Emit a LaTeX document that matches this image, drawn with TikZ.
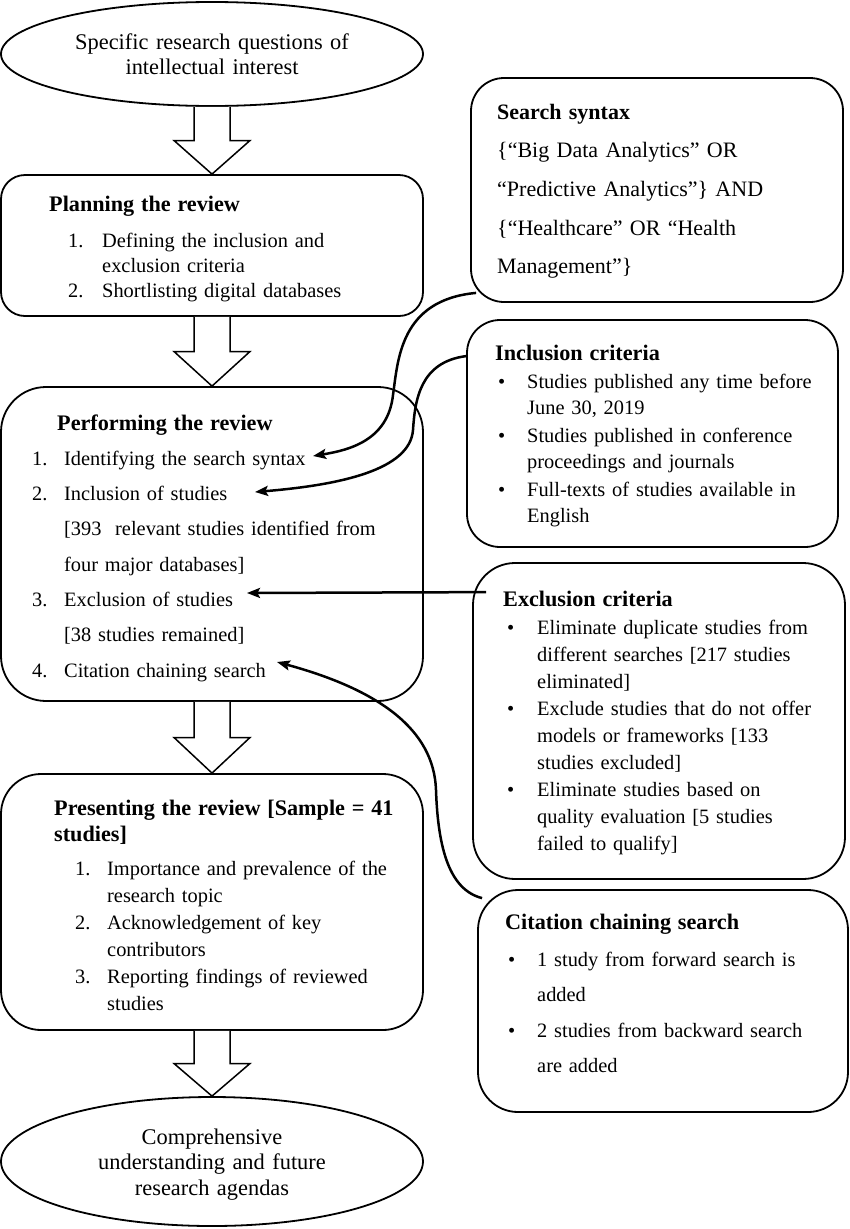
\documentclass[tikz,border=0pt]{standalone}
\usepackage{fontspec}
\setmainfont{Liberation Serif}
\usetikzlibrary{shapes.geometric,arrows.meta,calc}
\newcommand\itemlbl[3]{\hspace*{#1}\makebox[#2][l]{#3}}
\newcommand\blockarrow[2]{%
  \coordinate (m-#1) at ($(#1.south)!0.5!(#2.north)$);
  \draw[barrow] ($(#1.south)+(-18,0)$) -- ($(m-#1)+(-18,0)$) -- ($(m-#1)+(-38,0)$)
    -- (#2.north) -- ($(m-#1)+(38,0)$) -- ($(m-#1)+(18,0)$) -- ($(#1.south)+(18,0)$);}
\begin{document}
\begin{tikzpicture}[x=1pt,y=-1pt,
  box/.style={draw, line width=1.8pt, rectangle, inner sep=0pt},
  oval/.style={draw, line width=1.8pt, ellipse, inner sep=0pt},
  txt/.style={anchor=base west, inner sep=0pt, text width=#1, align=left},
  ctxt/.style={anchor=base, inner sep=0pt, text width=400pt, align=center,
    font=\fontsize{22.4pt}{25.5pt}\selectfont},
  barrow/.style={draw, line width=1.5pt, fill=white, line join=miter},
  link/.style={line width=2.5pt, -{Stealth[length=13pt,width=10pt,inset=2.5pt]}},
  ttl/.style={font=\bfseries}]
\useasboundingbox (0,0) rectangle (850,1229);

% ---- left column shapes
\node[oval, minimum width=422pt, minimum height=104pt] (q) at (212,54) {};
\node[box, rounded corners=24pt, minimum width=422pt, minimum height=141pt] (plan) at (212,245.5) {};
\node[box, rounded corners=45pt, minimum width=422pt, minimum height=314pt] (perf) at (212,544) {};
\node[box, rounded corners=40pt, minimum width=422pt, minimum height=256pt] (pres) at (212,902) {};
\node[oval, minimum width=422pt, minimum height=129pt] (out) at (212,1161.5) {};

% ---- right column shapes
\node[box, rounded corners=33pt, minimum width=372pt, minimum height=224pt] (ss) at (657,190) {};
\node[box, rounded corners=33pt, minimum width=371pt, minimum height=227pt] (inc) at (652.5,433.5) {};
\node[box, rounded corners=42pt, minimum width=372pt, minimum height=316pt] (exc) at (659,721) {};
\node[box, rounded corners=40pt, minimum width=370pt, minimum height=222pt] (cit) at (663,1001) {};

% ---- block arrows
\blockarrow{q}{plan}
\blockarrow{plan}{perf}
\blockarrow{perf}{pres}
\blockarrow{pres}{out}

% ---- texts
\node[ctxt] (qt) at (212,49) {Specific research questions of\\intellectual interest};
\node[ctxt] (outt) at (212,1144) {Comprehensive\\understanding and future\\research agendas};

\node[txt=380pt, font=\fontsize{20.4pt}{25pt}\selectfont] (plant) at (49,211) {%
{\bfseries\fontsize{22.2pt}{25pt}\selectfont Planning the review}\\[11pt]
\itemlbl{19pt}{34pt}{1.}Defining the inclusion and\\
\hspace*{53pt}exclusion criteria\\
\itemlbl{19pt}{34pt}{2.}Shortlisting digital databases};

\node[txt=380pt, font=\fontsize{20.4pt}{35.3pt}\selectfont] (perft) at (32,430) {%
\hspace*{25pt}{\bfseries\fontsize{22.2pt}{26pt}\selectfont Performing the review}\\
\itemlbl{0pt}{32pt}{1.}Identifying the search syntax\\
\itemlbl{0pt}{32pt}{2.}Inclusion of studies\\
\hspace*{32pt}[393\ \ relevant studies identified from\\
\hspace*{32pt}four major databases]\\
\itemlbl{0pt}{32pt}{3.}Exclusion of studies\\
\hspace*{32pt}[38 studies remained]\\
\itemlbl{0pt}{32pt}{4.}Citation chaining search};

\node[txt=380pt, font=\fontsize{20.4pt}{27pt}\selectfont] (prest) at (54,815) {%
{\bfseries\fontsize{22.2pt}{26pt}\selectfont Presenting the review [Sample = 41}\\[-1pt]
{\bfseries\fontsize{22.2pt}{26pt}\selectfont studies]}\\[7pt]
\itemlbl{21pt}{32pt}{1.}Importance and prevalence of the\\
\hspace*{53pt}research topic\\
\itemlbl{21pt}{32pt}{2.}Acknowledgement of key\\
\hspace*{53pt}contributors\\
\itemlbl{21pt}{32pt}{3.}Reporting findings of reviewed\\
\hspace*{53pt}studies};

\node[txt=340pt, font=\fontsize{22pt}{38.7pt}\selectfont] (sst) at (497,119) {%
{\bfseries Search syntax}\\
\{“Big Data Analytics” OR\\
“Predictive Analytics”\} AND\\
\{“Healthcare” OR “Health\\
Management”\}};

\node[txt=340pt, font=\fontsize{20.4pt}{26pt}\selectfont] (inct) at (495,360) {%
{\bfseries\fontsize{22.2pt}{26pt}\selectfont Inclusion criteria}\\[2pt]
\itemlbl{3pt}{29pt}{•}Studies published any time before\\
\hspace*{32pt}June 30, 2019\\[2pt]
\itemlbl{3pt}{29pt}{•}Studies published in conference\\
\hspace*{32pt}proceedings and journals\\[2pt]
\itemlbl{3pt}{29pt}{•}Full-texts of studies available in\\
\hspace*{32pt}English};

\node[txt=340pt, font=\fontsize{20.4pt}{27pt}\selectfont] (exct) at (503,606) {%
{\bfseries\fontsize{22.2pt}{26pt}\selectfont Exclusion criteria}\\[1pt]
\itemlbl{4pt}{30pt}{•}Eliminate duplicate studies from\\
\hspace*{34pt}different searches [217 studies\\
\hspace*{34pt}eliminated]\\
\itemlbl{4pt}{30pt}{•}Exclude studies that do not offer\\
\hspace*{34pt}models or frameworks [133\\
\hspace*{34pt}studies excluded]\\
\itemlbl{4pt}{30pt}{•}Eliminate studies based on\\
\hspace*{34pt}quality evaluation [5 studies\\
\hspace*{34pt}failed to qualify]};

\node[txt=340pt, font=\fontsize{20.4pt}{35.5pt}\selectfont] (citt) at (505,929) {%
{\bfseries\fontsize{22.2pt}{26pt}\selectfont Citation chaining search}\\[1.5pt]
\itemlbl{3pt}{29pt}{•}1 study from forward search is\\
\hspace*{32pt}added\\
\itemlbl{3pt}{29pt}{•}2 studies from backward search\\
\hspace*{32pt}are added};

% ---- connector ends
\coordinate (t1) at (313,456);
\coordinate (t2) at (255,492);
\coordinate (t3) at (247,593);
\coordinate (t4) at (277,662);
\coordinate (s1) at ($(ss.south west)+(6,-10)$);
\coordinate (s2) at ($(inc.north west)+(0,37)$);
\coordinate (s3) at ($(exc.north west)+(14,30)$);
\coordinate (s4) at ($(cit.north west)+(5,9)$);

% ---- connectors
\draw[link] (s1) .. controls (400,300) and (398,360) .. (393,395)
  .. controls (388,440) and (350,450) .. (t1);
\draw[link] (s2) .. controls (420,362) and (415,400) .. (413,430)
  .. controls (410,470) and (340,485) .. (t2);
\draw[link] (s3) -- (t3);
\draw[link] (s4) .. controls (450,890) and (438,850) .. (436,790)
  .. controls (434,730) and (380,690) .. (t4);
\end{tikzpicture}
\end{document}
